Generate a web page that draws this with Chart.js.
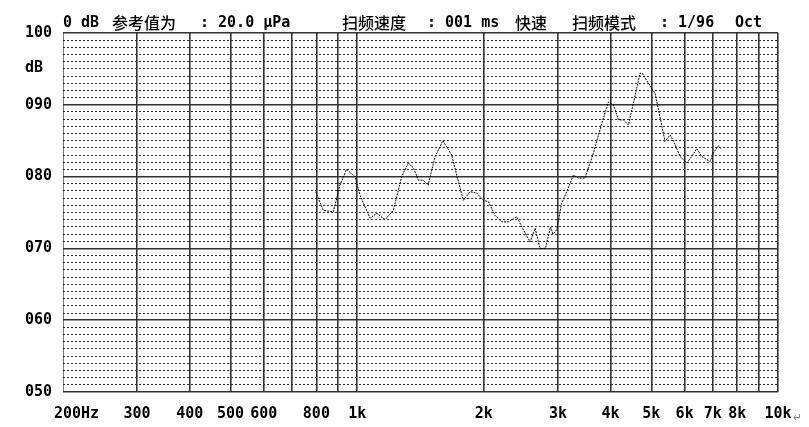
<!DOCTYPE html>
<html>
<head>
<meta charset="utf-8">
<script src="https://cdn.jsdelivr.net/npm/chart.js@4/dist/chart.umd.min.js"></script>
<style>
  html, body { margin: 0; padding: 0; background: #fff; }
  #wrap { width: 809px; height: 427px; }
</style>
</head>
<body>
<div id="wrap"><canvas id="spl" width="809" height="427"></canvas></div>
<script>
// sweep result (Hz / dB)
const FREQS = [797, 831, 878, 910, 944, 988, 1016, 1073, 1113, 1165, 1219, 1276, 1323, 1361, 1398, 1436, 1474,
  1532, 1598, 1678, 1724, 1788, 1855, 1925, 1995, 2050, 2127, 2205, 2287, 2395, 2483, 2576, 2648, 2720, 2800,
  2850, 2880, 2920, 2980, 3062, 3148, 3264, 3355, 3480, 3642, 3813, 3954, 4064, 4177, 4291, 4410, 4532, 4700,
  4760, 4920, 5104, 5200, 5260, 5390, 5541, 5650, 5853, 6070, 6240, 6413, 6591, 6897, 7025, 7219, 7290];
const LEVELS = [77.9, 75.3, 75.1, 78.8, 81.0, 80.0, 77.4, 74.2, 74.9, 74.0, 75.3, 80.0, 81.9, 81.2, 79.5, 79.5, 78.8,
  82.8, 85.0, 83.0, 80.2, 76.7, 77.9, 77.7, 76.7, 76.5, 74.6, 73.7, 73.7, 74.4, 72.6, 70.9, 72.8, 70.0, 70.0,
  71.8, 73.0, 72.0, 72.6, 76.3, 77.9, 80.2, 79.8, 79.8, 83.3, 87.4, 90.4, 90.0, 87.9, 87.9, 87.2, 90.2, 94.4,
  94.4, 93.0, 91.6, 89.3, 87.9, 84.9, 85.8, 84.9, 82.8, 81.9, 82.8, 83.9, 82.8, 82.1, 83.3, 84.3, 83.9];

// vertical grid lines and the labels under them
const X_GRID = [200, 300, 400, 500, 600, 700, 800, 900, 1000, 2000, 3000, 4000, 5000, 6000, 7000, 8000, 9000, 10000];
const X_LABELS = ['   200Hz', '300', '400', '500', '600', '', '800', '', '1k', '2k', '3k', '4k', '5k', '6k', '7k', '8k', '', '10k'];

const Y_MIN = 50, Y_MAX = 100;
const Y_LABELS = ['050', '060', '070', '080', '090', '100'];

// header line, pieces and where they start
const HEADER = [
  ['0 dB', 63, 'latin'],
  ['参考值为', 112, 'cjk'],
  [': 20.0 μPa', 200, 'latin'],
  ['扫频速度', 342, 'cjk'],
  [': 001 ms', 427, 'latin'],
  ['快速', 515, 'cjk'],
  ['扫频模式', 572, 'cjk'],
  [': 1/96', 660, 'latin'],
  ['Oct', 735, 'latin'],
];

const MONO = 'bold 15px "DejaVu Sans Mono", "Liberation Mono", monospace';
const CJK = '500 16px "Noto Sans CJK SC", sans-serif';
const MAJOR = '#333';
const MINOR = '#2a2a2a';

const headerPlugin = {
  id: 'header',
  afterDraw(chart) {
    const ctx = chart.ctx;
    ctx.save();
    ctx.fillStyle = '#000';
    ctx.textBaseline = 'alphabetic';
    HEADER.forEach(([txt, x, kind]) => {
      ctx.font = kind === 'cjk' ? CJK : MONO;
      ctx.fillText(txt, x, kind === 'cjk' ? 29 : 27);
    });
    ctx.font = MONO;
    ctx.fillText('dB', 25, 72);
    // stray paragraph mark from the source document
    ctx.font = '11px "DejaVu Sans"';
    ctx.fillStyle = '#888';
    ctx.fillText('↵', 793, 421);
    ctx.restore();
  }
};

const ctx = document.getElementById('spl');
new Chart(ctx, {
  type: 'line',
  data: {
    datasets: [{
      data: FREQS.map((f, i) => ({ x: f, y: LEVELS[i] })),
      borderColor: '#000',
      borderWidth: 1,
      borderDash: [2, 1],
      pointRadius: 0,
      tension: 0,
      fill: false,
      yAxisID: 'y',
    }]
  },
  options: {
    responsive: false,
    animation: false,
    devicePixelRatio: 1,
    layout: { padding: { top: 33, right: 31, left: 0, bottom: 0 } },
    plugins: {
      legend: { display: false },
      tooltip: { enabled: false },
      title: { display: false },
    },
    scales: {
      x: {
        type: 'logarithmic',
        min: 200,
        max: 10000,
        afterBuildTicks: (scale) => { scale.ticks = X_GRID.map(v => ({ value: v })); },
        afterFit: (scale) => { scale.height = 35; },
        ticks: {
          autoSkip: false,
          maxRotation: 0,
          padding: 13,
          color: '#000',
          font: { family: '"DejaVu Sans Mono", monospace', size: 15, weight: 'bold' },
          callback: (v) => {
            const i = X_GRID.indexOf(v);
            return i >= 0 ? X_LABELS[i] : '';
          }
        },
        grid: {
          drawTicks: false,
          lineWidth: (c) => c.tick && c.tick.value === 200 ? 1 : 1.6,
          color: (c) => c.tick && c.tick.value === 200 ? '#777' : MAJOR,
        },
        border: { display: false },
      },
      // fine 1 dB dashed lines
      y: {
        min: Y_MIN,
        max: Y_MAX,
        position: 'left',
        afterFit: (scale) => { scale.width = 0; },
        ticks: { stepSize: 1, display: false, autoSkip: false },
        grid: {
          drawTicks: false,
          lineWidth: 1,
          color: (c) => c.tick && c.tick.value % 10 === 0 ? 'rgba(0,0,0,0)' : MINOR,
        },
        border: { display: false, dash: [2, 2] },
      },
      // 10 dB solid lines with labels
      y10: {
        min: Y_MIN,
        max: Y_MAX,
        position: 'left',
        afterFit: (scale) => { scale.width = 63; },
        ticks: {
          stepSize: 10,
          autoSkip: false,
          padding: 11,
          color: '#000',
          font: { family: '"DejaVu Sans Mono", monospace', size: 15, weight: 'bold' },
          callback: (v) => Y_LABELS[Math.round((v - Y_MIN) / 10)],
        },
        grid: { drawTicks: false, lineWidth: 1.6, color: MAJOR },
        border: { display: false },
      },
    }
  },
  plugins: [headerPlugin]
});
</script>
</body>
</html>
